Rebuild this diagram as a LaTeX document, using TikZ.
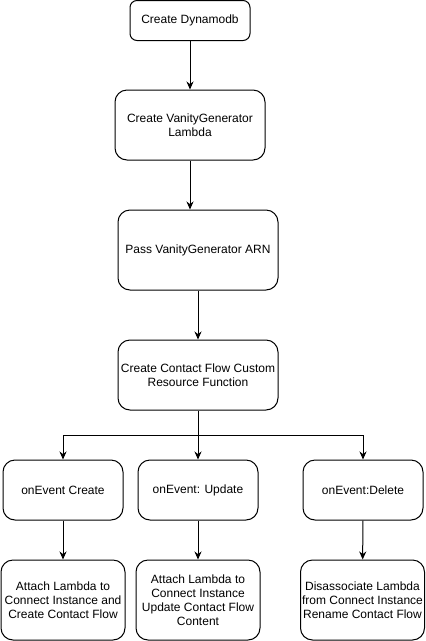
\documentclass[tikz,border=0pt]{standalone}
\usepackage{fontspec}
\setmainfont{Liberation Sans}
\usetikzlibrary{arrows.meta,positioning}
\begin{document}
\begin{tikzpicture}[x=1pt, y=-1pt, font=\fontsize{12}{14}\selectfont,
            stepbox/.style={draw, line width=1pt, rounded corners=12pt, align=center, inner sep=0pt},
            flow/.style={draw, line width=1pt, -{Stealth[length=8pt,width=7pt]}}]
            \useasboundingbox[fill=white] (0,0) rectangle (426,641);
            % main column
            \node(db) [stepbox, rounded corners=7pt, minimum width=120pt, minimum height=40pt] at (190,20.5) {Create Dynamodb};
            \node(vanity) [stepbox, minimum width=150pt, minimum height=70pt] at (190,125) {Create VanityGenerator\\Lambda};
            \node(arn) [stepbox, minimum width=160pt, minimum height=80pt] at (198,250) {Pass VanityGenerator ARN};
            \node(cf) [stepbox, minimum width=160pt, minimum height=70pt] at (198,375) {Create Contact Flow Custom\\Resource Function};
            \coordinate(split) at (198,435);
            % events
            \node(evCreate) [stepbox, minimum width=120pt, minimum height=60pt] at (63,490) {onEvent Create};
            \node(evUpdate) [stepbox, minimum width=120pt, minimum height=60pt] at (198,490) {onEvent: Update};
            \node(evDelete) [stepbox, minimum width=120pt, minimum height=60pt] at (363,490) {onEvent:Delete};
            % actions
            \node(acCreate) [stepbox, minimum width=124pt, minimum height=80pt] at (63,600) {Attach Lambda to\\Connect Instance and\\Create Contact Flow};
            \node(acUpdate) [stepbox, minimum width=124pt, minimum height=80pt] at (198,600) {Attach Lambda to\\Connect Instance\\Update Contact Flow\\Content};
            \node(acDelete) [stepbox, minimum width=124pt, minimum height=80pt] at (362.5,600) {Disassociate Lambda\\from Connect Instance\\Rename Contact Flow};
            \draw[flow](db) -- (vanity);
            \draw[flow](vanity) -- (vanity|-arn.north);
            \draw[flow](arn) -- (cf);
            \draw[line width=1pt](cf) -- (split);
            \draw[flow](split) -| (evCreate);
            \draw[flow](split) -- (evUpdate);
            \draw[flow](split) -| (evDelete);
            \draw[flow](evCreate) -- (acCreate);
            \draw[flow](evUpdate) -- (acUpdate);
            \draw[flow](evDelete) -- (acDelete);
            \end{tikzpicture}
\end{document}
